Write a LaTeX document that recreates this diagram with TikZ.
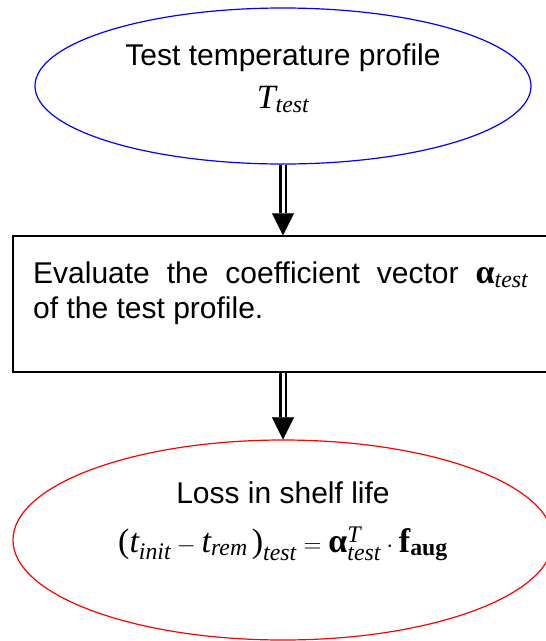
\documentclass[tikz,border=0pt]{standalone}
\usepackage{amsmath}
\usepackage{fontspec}
\setmainfont{Liberation Sans}
\newfontfamily\tnr{Liberation Serif}
\newcommand{\ti}[1]{\text{\tnr\itshape #1}}
\newcommand{\tb}[1]{\text{\tnr\bfseries #1}}
\newcommand{\tr}[1]{\text{\tnr #1}}
\usetikzlibrary{arrows.meta,shapes.geometric}

\begin{document}
\begin{tikzpicture}[x=1pt, y=-1pt,
    every node/.style={inner sep=0pt},
    blueell/.style={ellipse, draw=blue, line width=1.2pt, minimum width=496pt, minimum height=156pt},
    redell/.style={ellipse, draw=red, line width=1.2pt, minimum width=540pt, minimum height=200pt},
    evalbox/.style={rectangle, draw=black, line width=1.4pt, minimum width=540pt, minimum height=136pt},
    bigtxt/.style={font=\fontsize{30}{35}\selectfont},
    bigmath/.style={font=\fontsize{34}{40}\selectfont},
    dblarrow/.style={double, double distance=3pt, line width=2.2pt,
        -{Triangle[length=22pt, width=22pt, line width=0.1pt]}}]
    % 1. Page size (the box and the red ellipse run off the right edge)
    \useasboundingbox (0,0) rectangle (546,641);

    % 2. The three shapes
    \node[blueell] (profile) at (283,86) {};
    \node[evalbox] (eval) at (283,304) {};
    \node[redell] (loss) at (283,540) {};

    % 3. Texts
    \node[bigtxt, anchor=base] (proftxt) at (283,65) {Test temperature profile};
    \node[bigmath, anchor=base] (profsym) at (283,108) {$\ti{T}_{\ti{test}}$};
    \node[bigtxt, anchor=base west, text width=495pt, align=justify] (evaltxt) at (33,283)
        {Evaluate the coefficient vector {\fontsize{34}{35}\selectfont$\tb{α}_{\ti{test}}$}\linebreak
         of the test profile.};
    \node[bigtxt, anchor=base] (losstxt) at (283,503) {Loss in shelf life};
    \node[bigmath, anchor=base] (lossfml) at (283,552)
        {$\tr{(}\ti{t}_{\ti{init}}-\ti{t}_{\ti{rem}}\,\tr{)}_{\ti{test}}=\tb{α}^{\ti{T}}_{\ti{test}}\cdot\tb{f}_{\tb{aug}}$};

    % 4. Double arrows between the steps
    \draw[dblarrow] (profile.south) -- (eval.north);
    \draw[dblarrow] (eval.south) -- (loss.north);
\end{tikzpicture}
\end{document}
